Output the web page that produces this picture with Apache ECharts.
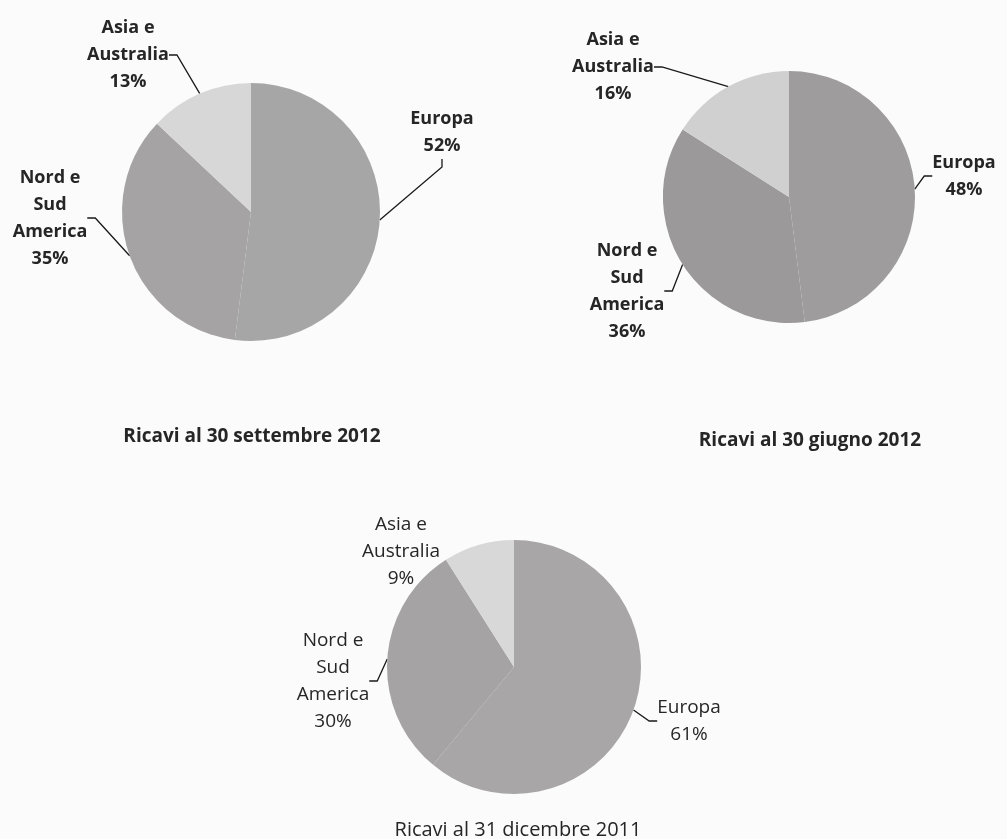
<!DOCTYPE html>
<html>
<head>
<meta charset="utf-8">
<script src="https://cdn.jsdelivr.net/npm/echarts@6/dist/echarts.min.js"></script>
<style>
  html, body { margin: 0; padding: 0; background: #fbfbfb; }
  #main { width: 1007px; height: 839px; }
</style>
</head>
<body>
<div id="main"></div>
<script>
// data
const regions = ['Europa', 'Nord e\nSud\nAmerica', 'Asia e\nAustralia'];
const titles = ['Ricavi al 30 settembre 2012', 'Ricavi al 30 giugno 2012', 'Ricavi al 31 dicembre 2011'];
const sett2012 = [52, 35, 13];
const giu2012 = [48, 36, 16];
const dic2011 = [61, 30, 9];

// layout per pie (center, radius, label anchor points, colors)
const pies = [
  {
    data: sett2012, title: titles[0], center: [251, 212], radius: 129, bold: true,
    colors: ['#a7a6a7', '#a5a3a4', '#d7d7d7'],
    labelPos: [[442, 132], [50, 218], [128, 55]],
    titlePos: [247, 422],
    noLine: []
  },
  {
    data: giu2012, title: titles[1], center: [789, 197], radius: 126, bold: true,
    colors: ['#9e9c9d', '#9b999a', '#d0d0d0'],
    labelPos: [[964, 176], [627, 291], [613, 67]],
    titlePos: [805, 426],
    noLine: []
  },
  {
    data: dic2011, title: titles[2], center: [514, 667], radius: 127, bold: false,
    colors: ['#a8a6a7', '#a5a3a4', '#d8d8d8'],
    labelPos: [[689, 721], [333, 681], [401, 552]],
    titlePos: [513, 815],
    noLine: [2]
  }
];

const FONT = '"Open Sans", "DejaVu Sans", sans-serif';

const chart = echarts.init(document.getElementById('main'), null, { renderer: 'canvas' });

const series = pies.map(function (p) {
  return {
    type: 'pie',
    center: p.center,
    radius: p.radius,
    startAngle: 90,
    clockwise: true,
    animation: false,
    silent: true,
    data: p.data.map(function (v, i) {
      const item = { name: regions[i], value: v, itemStyle: { color: p.colors[i] } };
      if (p.noLine.indexOf(i) >= 0) item.labelLine = { show: false };
      return item;
    }),
    label: {
      show: true,
      position: 'outside',
      formatter: function (params) { return params.name + '\n' + params.value + '%'; },
      fontFamily: FONT,
      fontWeight: p.bold ? 'bold' : 'normal',
      fontSize: p.bold ? 18 : 19,
      lineHeight: 27,
      color: '#262626',
      align: 'center',
      overflow: 'none'
    },
    labelLine: {
      show: true,
      length: 10,
      length2: 8,
      lineStyle: { color: '#1a1a1a', width: 1.3 }
    },
    labelLayout: function (params) {
      const pos = p.labelPos[params.dataIndex];
      return { x: pos[0], y: pos[1], align: 'center', verticalAlign: 'middle' };
    }
  };
});

const titleOpts = pies.map(function (p) {
  return {
    text: p.title,
    left: p.titlePos[0],
    top: p.titlePos[1],
    textAlign: 'center',
    textStyle: {
      fontFamily: FONT,
      fontWeight: p.bold ? 'bold' : 'normal',
      fontSize: p.bold ? 19 : 20,
      color: '#262626'
    }
  };
});

chart.setOption({
  backgroundColor: '#fbfbfb',
  title: titleOpts,
  series: series
});
</script>
</body>
</html>
